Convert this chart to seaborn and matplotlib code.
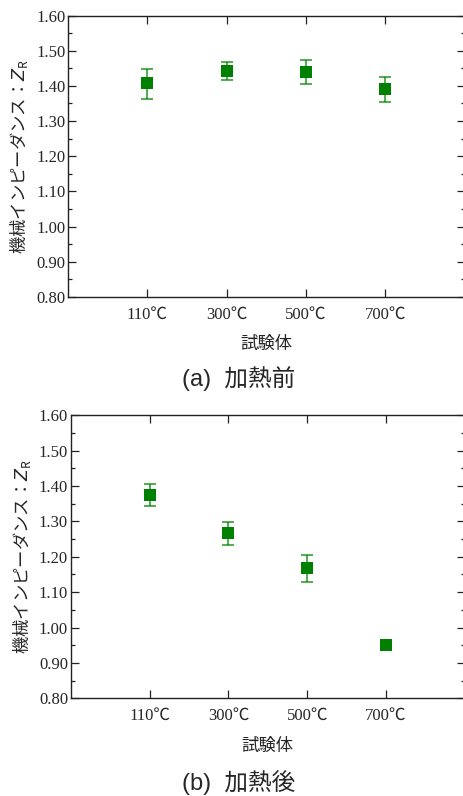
import numpy as np
import pandas as pd
import matplotlib
matplotlib.use('Agg')
import matplotlib.pyplot as plt
from matplotlib.ticker import MultipleLocator, AutoMinorLocator
import seaborn as sns

# data
specimens = ["110℃", "300℃", "500℃", "700℃"]

before_mean = [1.407, 1.443, 1.440, 1.390]
before_low = [1.362, 1.417, 1.404, 1.354]
before_high = [1.448, 1.468, 1.474, 1.424]

after_mean = [1.376, 1.266, 1.169, 0.952]
after_low = [1.344, 1.234, 1.130, 0.945]
after_high = [1.407, 1.297, 1.204, 0.960]

captions = ["(a)  加熱前", "(b)  加熱後"]

sns.set_style('ticks')
plt.rcParams['font.family'] = ['Noto Sans CJK JP', 'DejaVu Sans']
plt.rcParams['mathtext.fontset'] = 'custom'
plt.rcParams['mathtext.rm'] = 'Noto Sans CJK JP'
plt.rcParams['mathtext.it'] = 'DejaVu Sans:italic'

GREEN = '#008000'
SERIF = ['Liberation Serif', 'Noto Sans CJK JP']

fig = plt.figure(figsize=(4.63, 7.96), dpi=100)

ax_a = fig.add_axes([0.147, 0.627, 0.857, 0.3535])
ax_b = fig.add_axes([0.153, 0.1227, 0.851, 0.3556])

panels = [
    (ax_a, before_mean, before_low, before_high, 0.525),
    (ax_b, after_mean, after_low, after_high, 0.0164),
]

for (ax, mean, low, high, cap_y), caption in zip(panels, captions):

    pos = np.arange(len(specimens)) + 1
    df = pd.DataFrame({'pos': pos, 'zr': mean})

    yerr = np.array([
        np.array(mean) - np.array(low),
        np.array(high) - np.array(mean)
    ])

    ax.errorbar(
        pos, mean, yerr=yerr,
        fmt='none', ecolor=GREEN, alpha=0.65,
        elinewidth=1.5, capsize=4.3, capthick=1.5, zorder=2
    )

    sns.scatterplot(
        data=df, x='pos', y='zr', ax=ax,
        marker='s', s=80, color=GREEN, linewidth=0, zorder=3
    )

    ax.set_xlim(0, 5)
    ax.set_ylim(0.80, 1.60)
    ax.set_xticks(pos)
    ax.set_xticklabels(specimens, family=SERIF, fontsize=12)
    ax.yaxis.set_major_locator(MultipleLocator(0.1))
    ax.yaxis.set_minor_locator(AutoMinorLocator(2))
    ax.set_yticks(np.arange(0.8, 1.61, 0.1))
    ax.set_yticklabels(
        [f"{v:.2f}" for v in np.arange(0.8, 1.61, 0.1)],
        family=SERIF, fontsize=12
    )

    ax.tick_params(
        which='both', direction='in',
        top=True, right=True, color='#222222'
    )
    ax.tick_params(which='major', length=6, width=0.9, pad=7)
    ax.tick_params(which='minor', length=3, width=0.9)
    ax.tick_params(axis='y', which='major', pad=2)

    for sp in ax.spines.values():
        sp.set_color('#222222')
        sp.set_linewidth(1.0)

    ax.set_xlabel("試験体", fontsize=12.5, labelpad=9)
    ax.set_ylabel(r"$\mathrm{機械インピーダンス：}Z_\mathrm{R}$",
                  fontsize=12.5, labelpad=4)

    fig.text(0.516, cap_y, caption, ha='center', va='center',
             fontsize=17, family=['Liberation Sans', 'Noto Sans CJK JP'])

fig.savefig('out.png', dpi=100)
